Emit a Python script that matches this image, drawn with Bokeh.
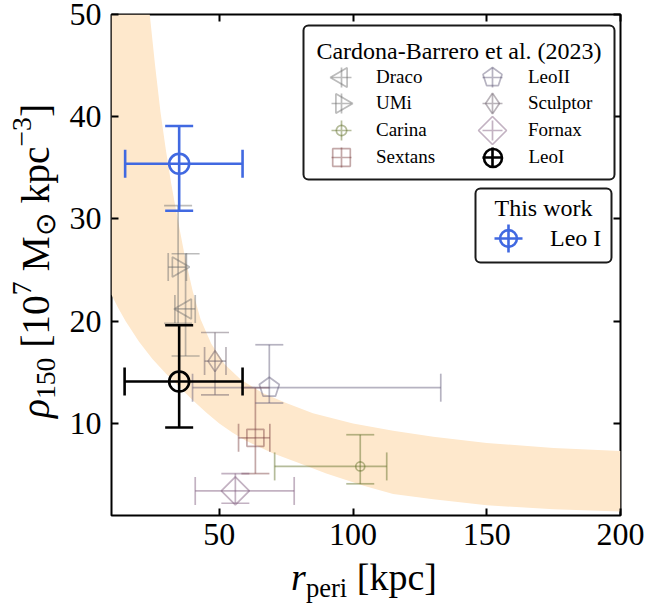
import numpy as np
from bokeh.plotting import figure
from bokeh.layouts import row, column
from bokeh.models import (Range1d, ColumnDataSource, Whisker, TeeHead, Legend, LegendItem,
                          BoxAnnotation, Label, LinearAxis, FixedTicker, Div)
from bokeh.embed import file_html
from bokeh.resources import INLINE

# ---------------- data ----------------
galaxies  = ["Draco", "UMi", "Carina", "Sextans", "LeoII", "Sculptor", "Fornax", "LeoI"]
r_peri    = [37.4, 34.6, 102.7, 63.5, 68.7, 48.4, 56.0, 35.0]
r_peri_lo = [33.4, 30.9, 70.7, 57.2, 40.0, 44.5, 41.0, 14.6]
r_peri_hi = [41.0, 37.7, 112.6, 68.9, 132.8, 52.5, 78.0, 58.7]
rho150    = [21.2, 25.3, 5.8, 8.6, 13.5, 16.1, 3.4, 14.1]
rho150_lo = [16.6, 19.8, 4.1, 5.1, 12.0, 12.8, 2.2, 9.6]
rho150_hi = [26.6, 31.3, 8.9, 13.5, 17.7, 18.9, 5.1, 19.6]

this_name   = ["Leo I"]
this_r      = [35.0]
this_r_lo   = [14.8]
this_r_hi   = [58.7]
this_rho    = [35.4]
this_rho_lo = [30.8]
this_rho_hi = [39.1]

band_upper_x = [9.7, 24.0, 26, 28, 30, 32, 34, 37, 40, 43, 47, 52, 58, 66, 75, 85, 100, 115, 130, 150, 175, 200]
band_upper_y = [50, 50, 45, 40.5, 36.8, 33.5, 30.6, 26.5, 23.0, 20.2, 17.8, 15.8, 14.3, 13.0, 12.0, 11.0, 10.0, 9.3, 8.7, 8.1, 7.6, 7.3]
band_lower_x = [9.7, 12, 15, 20, 25, 30, 35, 40, 45, 50, 55, 60, 70, 80, 90, 104, 115, 130, 150, 175, 200]
band_lower_y = [22.6, 21.4, 20.0, 18.0, 16.3, 14.9, 13.6, 12.3, 11.1, 10.0, 9.1, 8.3, 7.1, 6.1, 5.1, 3.9, 3.1, 2.6, 2.0, 1.6, 1.4]

x_ticks = [50, 100, 150, 200]
y_ticks = [10, 20, 30, 40, 50]

legend_title_1 = "Cardona-Barrero et al. (2023)"
legend_title_2 = "This work"

# ---------------- styles / layout ----------------
FONT = "Liberation Serif"
W, H = 668, 603
YL_W = 66            # width of the y-label strip
PH = 560             # height of the plot part
FL, FR, FT, FB = 108, 620, 14, 515   # frame edges in window px

# marker kind, angle, size (scatter size or ngon radius)
gal_marker = ["ngon3", "ngon3", "circle", "square", "ngon5", "diamond", "ngon4", "circle"]
gal_angle  = [np.pi / 2, -np.pi / 2, 0, 0, 0, 0, 0, 0]
gal_size   = [11.5, 11.5, 9, 17, 10.5, 21, 14, 20]
gal_color  = ["#6a6a6a", "#6a6a6a", "#5c6a22", "#7a3d3d", "#5e5676", "#665866", "#7a5577", "black"]
gal_alpha  = [0.45] * 7 + [1.0]
gal_lw     = [1.7] * 7 + [2.6]
BLUE = "#4169e1"
BAND = "#fee8cc"

p = figure(width=W - YL_W, height=PH, x_range=Range1d(9.7, 200), y_range=Range1d(1.0, 50),
           output_backend="svg", toolbar_location=None,
           min_border_left=FL - YL_W, min_border_right=W - FR, min_border_top=FT,
           min_border_bottom=PH - FB)
p.background_fill_color = "white"
p.border_fill_color = "white"
p.outline_line_color = "black"
p.outline_line_width = 2
p.xgrid.grid_line_color = None
p.ygrid.grid_line_color = None

bottom_ax = p.below[0]
left_ax = p.left[0]
bottom_ax.ticker = FixedTicker(ticks=x_ticks)
left_ax.ticker = FixedTicker(ticks=y_ticks)
top_ax = LinearAxis(ticker=FixedTicker(ticks=x_ticks), major_label_overrides={t: "" for t in x_ticks})
right_ax = LinearAxis(ticker=FixedTicker(ticks=y_ticks), major_label_overrides={t: "" for t in y_ticks})
p.add_layout(top_ax, "above")
p.add_layout(right_ax, "right")
for ax in [bottom_ax, left_ax, top_ax, right_ax]:
    ax.axis_line_color = None
    ax.major_tick_in = 7
    ax.major_tick_out = 0
    ax.major_tick_line_width = 2
    ax.major_tick_line_color = "black"
    ax.minor_tick_line_color = None
    ax.major_label_text_font = FONT
    ax.major_label_text_font_size = "32px"
    ax.major_label_text_color = "black"
bottom_ax.major_label_standoff = 8
left_ax.major_label_standoff = 10

# ---------------- band ----------------
p.patch(x=band_upper_x + band_lower_x[::-1], y=band_upper_y + band_lower_y[::-1],
        fill_color=BAND, line_color=None)

try:
    from bokeh.models import Ngon
    HAS_NGON = True
except Exception:
    HAS_NGON = False

FALLBACK = {"ngon3": "triangle", "ngon4": "diamond", "ngon5": "hex"}


def add_marker(src, i, x="x", y="y"):
    kw = dict(fill_color=None, line_color=gal_color[i], line_alpha=gal_alpha[i], line_width=gal_lw[i])
    m = gal_marker[i]
    if m.startswith("ngon"):
        if HAS_NGON:
            try:
                g = Ngon(x=x, y=y, radius=gal_size[i], radius_units="screen", n=int(m[4:]),
                         angle=gal_angle[i], **kw)
                return p.add_glyph(src, g)
            except Exception:
                pass
        return p.scatter(x=x, y=y, source=src, marker=FALLBACK[m], size=2 * gal_size[i],
                         angle=gal_angle[i], **kw)
    return p.scatter(x=x, y=y, source=src, marker=m, size=gal_size[i], angle=gal_angle[i], **kw)


def add_errors(src, color, alpha, lw):
    def head():
        return TeeHead(size=28, line_color=color, line_alpha=alpha, line_width=lw)
    for base, lo, hi, dim in [("x", "ylo", "yhi", "height"), ("y", "xlo", "xhi", "width")]:
        w = Whisker(source=src, base=base, lower=lo, upper=hi, dimension=dim,
                    line_color=color, line_alpha=alpha, line_width=lw,
                    upper_head=head(), lower_head=head(), level="annotation")
        p.add_layout(w)


marker_renderers = []
for i, name in enumerate(galaxies):
    src = ColumnDataSource(data=dict(x=[r_peri[i]], y=[rho150[i]], xlo=[r_peri_lo[i]], xhi=[r_peri_hi[i]],
                                     ylo=[rho150_lo[i]], yhi=[rho150_hi[i]]))
    add_errors(src, gal_color[i], gal_alpha[i], gal_lw[i])
    marker_renderers.append(add_marker(src, i))

src_this = ColumnDataSource(data=dict(x=this_r, y=this_rho, xlo=this_r_lo, xhi=this_r_hi,
                                      ylo=this_rho_lo, yhi=this_rho_hi))
add_errors(src_this, BLUE, 1.0, 2.6)
blue_r = p.scatter(x="x", y="y", source=src_this, marker="circle", size=20, fill_color=None,
                   line_color=BLUE, line_width=2.6)

# ---------------- legend boxes ----------------
def add_box(l, r, t, b):
    box = BoxAnnotation(left=l - FL, right=r - FL, top=FB - t, bottom=FB - b,
                        left_units="screen", right_units="screen", top_units="screen", bottom_units="screen",
                        fill_color="white", fill_alpha=0.85, line_color="#1a1a1a", line_alpha=1.0,
                        line_width=2, level="annotation")
    try:
        box.border_radius = 5
    except Exception:
        pass
    p.add_layout(box)

add_box(300, 611, 25, 179)
add_box(472, 608, 188, 262)

p.add_layout(Label(x=455.5 - FL, y=FB - 50, x_units="screen", y_units="screen", text=legend_title_1,
                   text_font=FONT, text_font_size="24px", text_align="center", text_baseline="middle",
                   text_color="black"))
p.add_layout(Label(x=540 - FL, y=FB - 207, x_units="screen", y_units="screen", text=legend_title_2,
                   text_font=FONT, text_font_size="24px", text_align="center", text_baseline="middle",
                   text_color="black"))


def add_icon_legend(renderers, label, cx, cy, g, label_x, font_px):
    standoff = max(int(round(label_x - cx - g / 2)), 0)
    leg = Legend(items=[LegendItem(label=label, renderers=renderers)],
                 location=(cx - g / 2 - FL, FB - (cy + g / 2)),
                 orientation="vertical", glyph_width=g, glyph_height=g, label_height=g, label_width=5,
                 label_standoff=standoff, padding=0, margin=0, spacing=0,
                 border_line_color=None, background_fill_alpha=0.0,
                 label_text_font=FONT, label_text_font_size=f"{font_px}px", label_text_color="black")
    p.add_layout(leg)


# icon layout: (centre x, centre y, glyph box, label x) in window px
icon_pos = [(338, 77, 56, 373), (338, 103, 56, 373), (338, 130, 26, 373), (338, 157, 44, 373),
            (489, 77, 50, 525), (489, 103, 52, 525), (489, 130, 70, 525), (489, 157, 45, 525)]
for i, name in enumerate(galaxies):
    cx, cy, g, lx = icon_pos[i]
    cross = p.scatter(x=[np.nan], y=[np.nan], marker="cross", size=10, line_color=gal_color[i],
                      line_alpha=gal_alpha[i], line_width=gal_lw[i])
    add_icon_legend([cross], " ", cx, cy, 50, lx + 200, 19)
    add_icon_legend([marker_renderers[i]], name, cx, cy, g, lx, 19)

blue_cross = p.scatter(x=[np.nan], y=[np.nan], marker="cross", size=10, line_color=BLUE, line_width=2.6)
add_icon_legend([blue_cross], " ", 505, 238, 70, 700, 24)
add_icon_legend([blue_r], this_name[0], 505, 238, 42, 547, 24)

# ---------------- axis labels as HTML text (sub/superscripts) ----------------
def css(size):
    return (f"font-family:'{FONT}',serif;font-size:{size}px;line-height:{size}px;color:black;"
            f"white-space:nowrap;")

SX, SY = 38, 39.5
sub_x = f"font-size:{0.7 * SX:.1f}px;position:relative;top:7px;line-height:0;"
sub_y = f"font-size:{0.7 * SY:.1f}px;position:relative;top:6px;line-height:0;"
sup_y = f"font-size:{0.7 * SY:.1f}px;position:relative;top:-18px;line-height:0;"

x_label_html = (f'<div style="position:relative;width:{W}px;height:{H - PH}px;">'
                f'<div style="position:absolute;left:{(FL + FR) / 2}px;top:-2px;transform:translateX(-50%);{css(SX)}">'
                f'<i>r</i><span style="{sub_x}">peri</span> [kpc]</div></div>')

y_base = 50                       # baseline x of the rotated y label (window px)
y_left = y_base - 0.8375 * SY     # top of the (rotated) line box
y_label_html = (f'<div style="position:relative;width:{YL_W}px;height:{PH}px;">'
                f'<div style="position:absolute;left:{y_left:.1f}px;top:261px;transform-origin:0 0;'
                f'transform:rotate(-90deg) translateX(-50%);{css(SY)}">'
                f'<i>\u03c1</i><span style="{sub_y}">150</span> [10<span style="{sup_y}">7</span> M'
                f'<span style="{sub_y}">\u2299</span> kpc<span style="{sup_y}">\u22123</span>]</div></div>')

ydiv = Div(text=y_label_html, width=YL_W, height=PH, margin=0)
xdiv = Div(text=x_label_html, width=W, height=H - PH, margin=0)

layout = column(row(ydiv, p, spacing=0), xdiv, spacing=0)
open("out.html", "w").write(file_html(layout, INLINE))
